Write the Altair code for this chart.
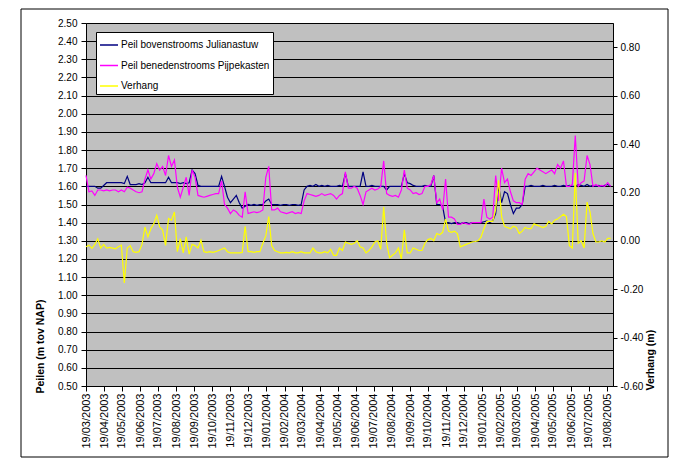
import altair as alt
import pandas as pd

series_names = ["Peil bovenstrooms Julianastuw", "Peil benedenstrooms Pijpekasten", "Verhang"]
series_colors = ["#000080", "#FF00FF", "#FFFF00"]

start_date = "2003-03-19"
step_days = 5
x_end = "29/08/2005"

boven = [
    1.60, 1.60, 1.60, 1.60, 1.59, 1.59, 1.605, 1.62, 1.62, 1.62,
    1.62, 1.62, 1.62, 1.615, 1.655, 1.61, 1.61, 1.61, 1.615, 1.61,
    1.62, 1.65, 1.62, 1.62, 1.62, 1.62, 1.62, 1.62, 1.65, 1.62,
    1.62, 1.62, 1.615, 1.62, 1.615, 1.62, 1.69, 1.67, 1.605, 1.60,
    1.60, 1.60, 1.60, 1.60, 1.60,
    1.60, 1.655, 1.60, 1.54, 1.51, 1.53, 1.55, 1.51, 1.48, 1.49,
    1.50, 1.495, 1.50, 1.495, 1.50, 1.50, 1.52, 1.53, 1.50, 1.50,
    1.50, 1.495, 1.50, 1.50, 1.495, 1.50, 1.50, 1.495, 1.50, 1.58,
    1.60, 1.605, 1.60, 1.61, 1.60, 1.605, 1.60, 1.605, 1.60, 1.60,
    1.60, 1.605, 1.60, 1.67,
    1.60, 1.60, 1.60, 1.60, 1.60, 1.68, 1.60, 1.60, 1.605, 1.60,
    1.60, 1.60, 1.60, 1.58, 1.60, 1.60, 1.60, 1.60, 1.60, 1.67,
    1.62, 1.615, 1.605, 1.60, 1.60, 1.60, 1.605, 1.60, 1.60, 1.66,
    1.50, 1.50, 1.49, 1.40, 1.40, 1.395, 1.40, 1.40, 1.395, 1.40,
    1.40, 1.395, 1.40, 1.40,
    1.40, 1.40, 1.405, 1.41, 1.40, 1.41, 1.45, 1.60, 1.51, 1.57,
    1.56, 1.50, 1.45, 1.48, 1.48, 1.50, 1.60, 1.60, 1.605, 1.60,
    1.60, 1.60, 1.605, 1.60, 1.60, 1.60, 1.605, 1.60, 1.60, 1.605,
    1.60, 1.605, 1.60, 1.60, 1.61, 1.605, 1.60, 1.61, 1.60, 1.605,
    1.60, 1.605, 1.60, 1.605, 1.61, 1.60,
]

beneden = [
    1.66, 1.57, 1.575, 1.55, 1.58, 1.58, 1.575, 1.58, 1.575, 1.58,
    1.58, 1.57, 1.58, 1.57, 1.595, 1.59, 1.58, 1.57, 1.565, 1.57,
    1.64, 1.69, 1.64, 1.67, 1.725, 1.69, 1.71, 1.66, 1.77, 1.71,
    1.745, 1.595, 1.54, 1.595, 1.65, 1.55, 1.69, 1.65, 1.55, 1.545,
    1.54, 1.545, 1.55, 1.555, 1.56,
    1.56, 1.63, 1.50, 1.48, 1.45, 1.47, 1.46, 1.44, 1.43, 1.57,
    1.45, 1.455, 1.46, 1.455, 1.46, 1.47, 1.65, 1.71, 1.47, 1.47,
    1.48, 1.46, 1.455, 1.45, 1.455, 1.46, 1.45, 1.455, 1.45, 1.52,
    1.56, 1.555, 1.55, 1.545, 1.55, 1.56, 1.55, 1.555, 1.56, 1.55,
    1.53, 1.55, 1.56, 1.68,
    1.59, 1.59, 1.60, 1.59, 1.55, 1.50, 1.57, 1.58, 1.59, 1.58,
    1.585, 1.60, 1.74, 1.56, 1.55, 1.545, 1.55, 1.54, 1.58, 1.69,
    1.59, 1.58, 1.56, 1.565, 1.555, 1.56, 1.60, 1.60, 1.61, 1.66,
    1.51, 1.53, 1.47, 1.64, 1.43, 1.43, 1.42, 1.39, 1.39, 1.40,
    1.395, 1.39, 1.40, 1.40,
    1.40, 1.40, 1.53, 1.43, 1.42, 1.43, 1.66, 1.52, 1.70, 1.62,
    1.64, 1.57, 1.52, 1.51, 1.51, 1.50, 1.64, 1.67, 1.66, 1.68,
    1.70, 1.69, 1.68, 1.67, 1.68, 1.69, 1.67, 1.72, 1.70, 1.74,
    1.60, 1.60, 1.61, 1.88, 1.60, 1.62, 1.63, 1.77, 1.72, 1.60,
    1.61, 1.60, 1.605, 1.60, 1.62, 1.60,
]

verhang = [
    -0.025, -0.018, -0.031, -0.015, 0.008, -0.03, -0.015, -0.03, -0.027, -0.03,
    -0.033, -0.025, -0.018, -0.174, -0.03, -0.02, -0.045, -0.048, -0.045, -0.015,
    0.057, 0.016, 0.05, 0.07, 0.105, 0.057, 0.044, -0.019, 0.092, 0.085,
    0.119, -0.045, 0.009, -0.05, 0.016, -0.055, -0.015, -0.02, -0.03, 0.002,
    -0.045, -0.048, -0.045, -0.048, -0.045,
    -0.04, -0.035, -0.03, -0.045, -0.05, -0.05, -0.05, -0.05, -0.048, 0.06,
    -0.045, -0.045, -0.048, -0.045, -0.045, -0.01, 0.02, 0.10, -0.02, -0.04,
    -0.045, -0.05, -0.05, -0.048, -0.05, -0.045, -0.05, -0.05, -0.045, -0.05,
    -0.05, -0.05, -0.03, -0.045, -0.05, -0.05, -0.045, -0.05, -0.035, -0.06,
    -0.06, -0.03, -0.04, -0.005,
    -0.01, -0.015, -0.01, 0.0, -0.025, -0.03, -0.05, -0.04, -0.025, -0.005,
    0.0, -0.035, 0.14, -0.01, -0.07, -0.06, -0.05, -0.03, -0.075, 0.045,
    -0.05, -0.05, -0.03, -0.035, -0.04, -0.04, -0.01, 0.005, 0.01, 0.0,
    0.03, 0.025, 0.035, 0.09, 0.04, 0.035, 0.04, 0.03, -0.025, -0.02,
    -0.015, -0.01, -0.005, -0.003,
    0.0, 0.015, 0.05, 0.08, 0.08, 0.08, 0.13, 0.25, 0.10, 0.06,
    0.055, 0.05, 0.06, 0.055, 0.03, 0.04, 0.055, 0.05, 0.05, 0.07,
    0.065, 0.06, 0.055, 0.06, 0.08, 0.07, 0.085, 0.09, 0.10, 0.11,
    0.10, -0.02, -0.03, 0.28, -0.01, 0.0, -0.03, 0.16, 0.12, 0.03,
    -0.005, -0.005, 0.0, -0.005, 0.01, 0.01,
]

tick_labels = [
    "19/03/2003", "19/04/2003", "19/05/2003", "19/06/2003", "19/07/2003", "19/08/2003",
    "19/09/2003", "19/10/2003", "19/11/2003", "19/12/2003", "19/01/2004", "19/02/2004",
    "19/03/2004", "19/04/2004", "19/05/2004", "19/06/2004", "19/07/2004", "19/08/2004",
    "19/09/2004", "19/10/2004", "19/11/2004", "19/12/2004", "19/01/2005", "19/02/2005",
    "19/03/2005", "19/04/2005", "19/05/2005", "19/06/2005", "19/07/2005", "19/08/2005",
]
peil_ticks = [0.50, 0.60, 0.70, 0.80, 0.90, 1.00, 1.10, 1.20, 1.30, 1.40, 1.50,
              1.60, 1.70, 1.80, 1.90, 2.00, 2.10, 2.20, 2.30, 2.40, 2.50]
verhang_ticks = [-0.60, -0.40, -0.20, 0.00, 0.20, 0.40, 0.60, 0.80]


def to_dt(s):
    d, m, y = (int(p) for p in s.split("/"))
    return alt.DateTime(year=y, month=m, date=d)


dates = pd.date_range(start_date, periods=len(boven), freq=f"{step_days}D")
left = pd.concat([
    pd.DataFrame({"date": dates, "value": boven, "series": series_names[0]}),
    pd.DataFrame({"date": dates, "value": beneden, "series": series_names[1]}),
])
right = pd.DataFrame({"date": dates, "value": verhang, "series": series_names[2]})

FONT = "Liberation Sans"

x_enc = alt.X(
    "date:T",
    title=None,
    scale=alt.Scale(domain=[to_dt(tick_labels[0]), to_dt(x_end)]),
    axis=alt.Axis(
        values=[to_dt(s) for s in tick_labels],
        format="%d/%m/%Y",
        labelAngle=270,
        labelOverlap=False,
        labelFontSize=11,
        labelPadding=2,
        tickSize=5,
        grid=False,
    ),
)

color_enc = alt.Color(
    "series:N",
    scale=alt.Scale(domain=series_names, range=series_colors),
    legend=alt.Legend(title=None),
)

left_axis = alt.Axis(
    values=peil_ticks,
    format=".2f",
    title="Peilen (m tov NAP)",
    titleX=-46,
    titleY=370,
    titleAngle=270,
    titleAlign="left",
    titleBaseline="middle",
    grid=True,
    gridColor="#000000",
    gridWidth=1,
    tickSize=5,
    labelPadding=4,
)

right_axis = alt.Axis(
    orient="right",
    values=verhang_ticks,
    labelExpr="replace(format(datum.value, '.2f'), '\u2212', '-')",
    title="Verhang (m)",
    titleX=37,
    titleY=367,
    titleAngle=270,
    titleAlign="left",
    titleBaseline="middle",
    grid=False,
    tickSize=4,
    labelPadding=3,
)

frame = alt.Chart(alt.Data(values=[{"k": 1}])).mark_rect(
    filled=False, stroke="black", strokeWidth=1
).encode(
    x=alt.value(-65), x2=alt.value(582), y=alt.value(-14), y2=alt.value(434)
)

left_lines = alt.Chart(left).mark_line(strokeWidth=1.2).encode(
    x=x_enc,
    y=alt.Y("value:Q", scale=alt.Scale(domain=[0.5, 2.5], nice=False, zero=False), axis=left_axis),
    color=color_enc,
)

right_line = alt.Chart(right).mark_line(strokeWidth=1.2).encode(
    x=x_enc,
    y=alt.Y("value:Q", scale=alt.Scale(domain=[-0.6, 0.9], nice=False, zero=False), axis=right_axis),
    color=color_enc,
)

chart = (
    alt.layer(frame, left_lines, right_line)
    .resolve_scale(y="independent")
    .properties(
        width=527,
        height=363,
        autosize=alt.AutoSizeParams(type="none"),
        padding={"left": 78, "top": 15, "right": 56, "bottom": 72},
        background="white",
    )
    .configure(font=FONT)
    .configure_view(fill="#C0C0C0", stroke="#808080", strokeWidth=1)
    .configure_axis(
        domainColor="#000000",
        tickColor="#000000",
        labelColor="#000000",
        titleColor="#000000",
        labelFont=FONT,
        titleFont=FONT,
        labelFontSize=10,
        titleFontSize=10.5,
        titleFontWeight="bold",
    )
    .configure_legend(
        orient="none",
        legendX=10,
        legendY=9,
        fillColor="white",
        strokeColor="black",
        padding=3,
        symbolType="stroke",
        symbolSize=324,
        symbolStrokeWidth=1.5,
        labelFont=FONT,
        labelFontSize=10,
        labelColor="#000000",
        labelOffset=2,
        labelLimit=300,
        rowPadding=5.5,
    )
)

chart.save("out.html", embed_options={"renderer": "svg", "actions": False})
